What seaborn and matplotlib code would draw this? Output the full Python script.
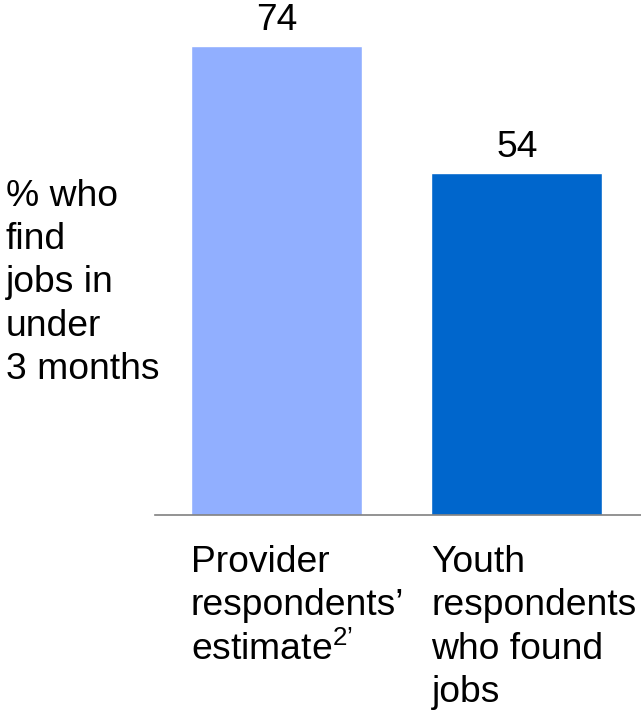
import matplotlib
matplotlib.use("Agg")
import matplotlib.pyplot as plt
import matplotlib.transforms as mtransforms
import seaborn as sns
import pandas as pd

categories = ["Provider\nrespondents’\nestimate$^{2’}$", "Youth\nrespondents\nwho found\njobs"]
values = [74, 54]
colors = ["#91AFFF", "#0066CC"]
value_labels = ["74", "54"]
ylabel_text = "% who\nfind\njobs in\nunder\n3 months"

sns.set_theme(style="white")
plt.rcParams["font.family"] = ["Liberation Sans", "DejaVu Sans"]
plt.rcParams["mathtext.fontset"] = "custom"
plt.rcParams["mathtext.rm"] = "Liberation Sans"
plt.rcParams["mathtext.it"] = "Liberation Sans"
plt.rcParams["mathtext.default"] = "rm"

FS = 26.8
LS = 1.31

W, H = 641, 714
fig = plt.figure(figsize=(W / 100, H / 100), dpi=100)
ax = fig.add_axes([155 / W, (H - 515) / H, (W - 155) / W, 515 / H])

df = pd.DataFrame({"cat": categories, "val": values})
bar_w = 0.711
sns.barplot(data=df, x="cat", y="val", hue="cat", palette=colors, width=bar_w,
            legend=False, ax=ax, saturation=1)

ax.set_xlim(-0.505, 1.516)
ax.set_ylim(0, 81.2)
for c, lab in zip(ax.containers, value_labels):
    ax.bar_label(c, labels=[lab], padding=5.3, fontsize=FS, color="black")

for s in ["top", "right", "left"]:
    ax.spines[s].set_visible(False)
ax.spines["bottom"].set_color("#808080")
ax.spines["bottom"].set_linewidth(1.2)
ax.set_xticks([])
ax.set_yticks([])
ax.set_xlabel("")
ax.set_ylabel("")

trans = mtransforms.blended_transform_factory(ax.transData, ax.transAxes)
for i, lab in enumerate(categories):
    ax.text(i - bar_w / 2, -0.058, lab, transform=trans, ha="left", va="top",
            fontsize=FS, color="black", linespacing=LS)

fig.text(6 / W, 1 - 283 / H, ylabel_text, ha="left", va="center", fontsize=FS,
         color="black", linespacing=LS)

fig.savefig("out.png", dpi=100)
